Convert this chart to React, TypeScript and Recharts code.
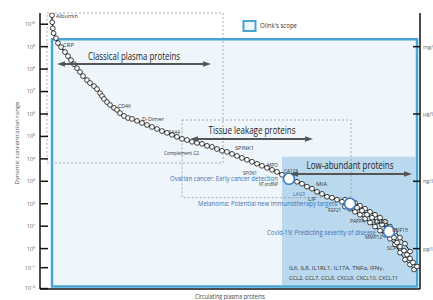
import { ComposedChart, XAxis, YAxis, Line, Scatter, ReferenceArea } from 'recharts';

// protein rank (x) vs log10 concentration (y)
const rank = [12, 12.3, 12.8, 13.6, 16, 18, 21, 25, 28, 31, 34, 37, 40, 43, 47, 50, 54, 57, 60, 62, 64, 67, 70, 74, 77, 80, 84, 88, 92, 97, 102, 107, 112, 117, 122, 127, 132, 137, 142, 147, 152, 157, 162, 167, 172, 177, 182, 187, 192, 197, 202, 207, 212, 217, 222, 227, 232, 237, 242, 247, 252, 257, 262, 267, 272, 277, 282, 287, 292, 297, 302, 307, 312, 317, 322, 327, 332, 337, 342, 347, 351, 354, 357, 360, 364, 367, 370, 373, 377];
const logConc = [10.4, 10.09, 9.82, 9.6, 9.38, 9.16, 8.98, 8.76, 8.58, 8.4, 8.22, 8.04, 7.87, 7.69, 7.51, 7.38, 7.24, 7.11, 6.93, 6.8, 6.67, 6.53, 6.4, 6.27, 6.18, 6.04, 5.91, 5.82, 5.78, 5.69, 5.6, 5.51, 5.42, 5.33, 5.24, 5.16, 5.07, 4.98, 4.89, 4.84, 4.76, 4.71, 4.67, 4.58, 4.53, 4.44, 4.36, 4.31, 4.22, 4.13, 4.04, 3.96, 3.87, 3.78, 3.69, 3.6, 3.51, 3.42, 3.29, 3.2, 3.11, 2.98, 2.89, 2.76, 2.67, 2.53, 2.44, 2.31, 2.27, 2.18, 2.09, 2.0, 1.91, 1.82, 1.69, 1.51, 1.38, 1.2, 1.07, 0.93, 0.71, 0.49, 0.27, 0.09, -0.09, -0.27, -0.44, -0.62, -0.8];

// the widening band of low-abundant proteins
const bandUpRank = [305, 310, 315, 320, 325, 330, 335, 340, 345, 350, 355, 360, 365, 370];
const bandUpConc = [2.18, 2.13, 2.04, 1.91, 1.78, 1.64, 1.51, 1.38, 1.2, 0.98, 0.76, 0.49, 0.22, -0.13];
const bandLowRank = [305, 310, 315, 320, 325, 330, 335, 340, 345, 350, 355, 360, 365, 370, 374];
const bandLowConc = [1.87, 1.78, 1.64, 1.51, 1.33, 1.16, 0.98, 0.8, 0.62, 0.44, 0.18, -0.18, -0.49, -0.71, -0.93];

// highlighted markers (CA125, FGF21, GDF15)
const bigRank = [249, 310, 349];
const bigConc = [3.11, 2.0, 0.76];

const leftTicks = [10, 9, 8, 7, 6, 5, 4, 3, 2, 1, 0, -0.85, -1.78];
const leftLabels = ['10¹⁰', '10⁹', '10⁸', '10⁷', '10⁶', '10⁵', '10⁴', '10³', '10²', '10¹', '10⁰', '10⁻¹', '10⁻²'];
const unitTicks = [9, 6, 3, 0];
const unitLabels = ['mg/l', 'µg/l', 'ng/l', 'pg/l'];

const mainData = rank.map((x, i) => ({ x, v: logConc[i] }));
const upData = bandUpRank.map((x, i) => ({ x, v: bandUpConc[i] }));
const lowData = bandLowRank.map((x, i) => ({ x, v: bandLowConc[i] }));
const bigData = bigRank.map((x, i) => ({ x, v: bigConc[i] }));

const FONT = '"Liberation Sans Narrow", "Open Sans", "Liberation Sans", sans-serif';
const BLUE_TXT = '#3f6fb0';

function Txt({ x, y, w, size = 6, fill = '#333', anchor = 'start', children }: any) {
  return (
    <text x={x} y={y} dy="0.35em" fontSize={size} fill={fill} fontFamily={FONT}
      textAnchor={anchor} textLength={w} lengthAdjust="spacingAndGlyphs">
      {children}
    </text>
  );
}

function Arrow({ x1, x2, y }: any) {
  return (
    <g>
      <line x1={x1 + 5} x2={x2 - 5} y1={y} y2={y} stroke="#555" strokeWidth={1.8} />
      <polygon points={`${x1},${y} ${x1 + 8},${y - 2.8} ${x1 + 8},${y + 2.8}`} fill="#555" />
      <polygon points={`${x2},${y} ${x2 - 8},${y - 2.8} ${x2 - 8},${y + 2.8}`} fill="#555" />
    </g>
  );
}

const LeftTick = (props: any) => {
  const { x, y, payload } = props;
  const i = leftTicks.indexOf(payload.value);
  return (
    <g>
      <line x1={x} x2={x + 8} y1={y} y2={y} stroke="#111" strokeWidth={1.5} />
      <text x={x - 5} y={y} dy="0.35em" textAnchor="end" fontSize={5.5} fill="#666" fontFamily={FONT}>
        {leftLabels[i]}
      </text>
    </g>
  );
};

const RightTick = (props: any) => {
  const { x, y, payload } = props;
  const i = unitTicks.indexOf(payload.value);
  return (
    <g>
      <line x1={x - 7} x2={x} y1={y} y2={y} stroke="#111" strokeWidth={1.5} />
      <text x={x + 3} y={y} dy="0.35em" textAnchor="start" fontSize={5.5} fill="#666" fontFamily={FONT}>
        {unitLabels[i]}
      </text>
    </g>
  );
};

const dot = (p: any) => (
  <circle cx={p.cx} cy={p.cy} r={2.4} fill="#fff" stroke="#111" strokeWidth={0.8} />
);
const bigDot = (p: any) => (
  <circle cx={p.cx} cy={p.cy} r={5.5} fill="#fff" stroke="#3a7cc4" strokeWidth={1.6} />
);

export default function App() {
  return (
    <div style={{ position: 'absolute', left: 0, top: 0, width: 433, height: 300, background: '#fff' }}>
      <ComposedChart width={433} height={300} margin={{ top: 13, right: 0, bottom: 0, left: 0 }}>
        <XAxis dataKey="x" type="number" domain={[0, 380]} allowDataOverflow tick={false} tickLine={false}
          height={11} axisLine={{ stroke: '#111', strokeWidth: 1.5 }} />
        <YAxis yAxisId="l" dataKey="v" type="number" domain={[-1.8, 10.5]} allowDataOverflow width={40}
          ticks={leftTicks} interval={0} tickSize={0} tickMargin={0} tick={<LeftTick />}
          axisLine={{ stroke: '#111', strokeWidth: 1.5 }} />
        <YAxis yAxisId="r" orientation="right" type="number" domain={[-1.8, 10.5]} allowDataOverflow width={13}
          ticks={unitTicks} interval={0} tickSize={0} tickMargin={0} tick={<RightTick />}
          axisLine={{ stroke: '#111', strokeWidth: 1.5 }} />

        {/* Olink's scope */}
        <ReferenceArea yAxisId="l" x1={12} x2={377} y1={-1.69} y2={9.33} ifOverflow="visible"
          fill="#eef6fb" fillOpacity={1} stroke="#45a6d6" strokeWidth={2.5} />
        <ReferenceArea yAxisId="l" x1={242} x2={375.8} y1={-1.62} y2={4.09} ifOverflow="visible"
          fill="#bad9ee" fillOpacity={1} stroke="none" />
        {/* dashed groupings */}
        <ReferenceArea yAxisId="l" x1={7} x2={183} y1={3.82} y2={10.5} ifOverflow="visible"
          fill="none" stroke="#9a9a9a" strokeWidth={0.8} strokeDasharray="2 2" />
        <ReferenceArea yAxisId="l" x1={142} x2={311} y1={2.27} y2={5.73} ifOverflow="visible"
          fill="none" stroke="#9a9a9a" strokeWidth={0.8} strokeDasharray="2 2" />

        <Line yAxisId="l" data={upData} dataKey="v" type="linear" stroke="#111" strokeWidth={1} dot={false} isAnimationActive={false} />
        <Line yAxisId="l" data={lowData} dataKey="v" type="linear" stroke="#111" strokeWidth={1} dot={false} isAnimationActive={false} />
        <Line yAxisId="l" data={mainData} dataKey="v" type="linear" stroke="#111" strokeWidth={1.2} dot={false} isAnimationActive={false} />
        <Scatter yAxisId="l" data={upData} dataKey="v" shape={dot} isAnimationActive={false} />
        <Scatter yAxisId="l" data={lowData} dataKey="v" shape={dot} isAnimationActive={false} />
        <Scatter yAxisId="l" data={mainData} dataKey="v" shape={dot} isAnimationActive={false} />
        <Scatter yAxisId="l" data={bigData} dataKey="v" shape={bigDot} isAnimationActive={false} />
      </ComposedChart>

      {/* annotation overlay, drawn above the chart */}
      <svg width={433} height={300} style={{ position: 'absolute', left: 0, top: 0, pointerEvents: 'none' }}>
        {/* legend */}
        <rect x={243.5} y={21} width={12} height={10} fill="#eef6fb" stroke="#45a6d6" strokeWidth={2} />
        <Txt x={260} y={26} w={37} size={6.5}>Olink's scope</Txt>

        {/* group titles and arrows */}
        <Txt x={134} y={56} w={92} size={10} fill="#222" anchor="middle">Classical plasma proteins</Txt>
        <Arrow x1={57} x2={211} y={64} />
        <Txt x={252} y={130} w={87} size={10} fill="#222" anchor="middle">Tissue leakage proteins</Txt>
        <Arrow x1={190} x2={313} y={139} />
        <Txt x={350} y={165} w={87} size={10} fill="#222" anchor="middle">Low-abundant proteins</Txt>
        <Arrow x1={290} x2={412} y={174} />

        {/* protein labels */}
        <Txt x={56} y={16} w={22} size={6}>Albumin</Txt>
        <Txt x={63} y={45} w={11} size={6}>CRP</Txt>
        <Txt x={118} y={106} w={13} size={6}>CD46</Txt>
        <Txt x={142} y={119} w={22} size={6}>D-Dimer</Txt>
        <Txt x={169} y={132} w={11} size={6}>SAA4</Txt>
        <Txt x={164} y={153} w={35} size={6}>Complement C2</Txt>
        <Txt x={235} y={148} w={19} size={6}>SPINK1</Txt>
        <Txt x={267} y={165} w={11} size={6}>MPO</Txt>
        <Txt x={243} y={173} w={14} size={6}>SPON1</Txt>
        <Txt x={259} y={184} w={19} size={6}>NT-proBNP</Txt>
        <Txt x={284} y={171} w={14} size={6}>CA125</Txt>
        <Txt x={316} y={184} w={11} size={6}>MIA</Txt>
        <Txt x={293} y={194} w={12} size={6} fill={BLUE_TXT}>LAG3</Txt>
        <Txt x={308} y={199} w={8} size={6}>LIF</Txt>
        <Txt x={328} y={210} w={13} size={6}>FGF21</Txt>
        <Txt x={350} y={221} w={15} size={6}>PAPPA</Txt>
        <Txt x={373} y={222} w={15} size={6}>AREG</Txt>
        <Txt x={392} y={230} w={16} size={6}>GDF15</Txt>
        <Txt x={365} y={237} w={17} size={6}>MMP12</Txt>
        <Txt x={387} y={248} w={9} size={6}>SCF</Txt>
        <Txt x={289} y={268} w={95} size={6}>IL6, IL8, IL1RL1, IL17A, TNFα, IFNγ,</Txt>
        <Txt x={289} y={278} w={109} size={6}>CCL2, CCL7, CCL8, CXCL9, CXCL10, CXCL11</Txt>

        {/* clinical annotations */}
        <Txt x={170} y={179} w={108} size={7} fill={BLUE_TXT}>Ovarian cancer: Early cancer detection</Txt>
        <Txt x={198} y={204} w={139} size={7} fill={BLUE_TXT}>Melanoma: Potential new immunotherapy targets</Txt>
        <Txt x={267} y={233} w={109} size={7} fill={BLUE_TXT}>Covid-19: Predicting severity of disease</Txt>

        {/* axis titles */}
        <text transform="translate(17,143) rotate(-90)" dy="0.35em" textAnchor="middle" fontSize={5.5}
          fill="#555" fontFamily={FONT} textLength={83} lengthAdjust="spacingAndGlyphs">
          Dynamic concentration range
        </text>
        <Txt x={230} y={297} w={70} size={6.5} fill="#444" anchor="middle">Circulating plasma proteins</Txt>
      </svg>
    </div>
  );
}
